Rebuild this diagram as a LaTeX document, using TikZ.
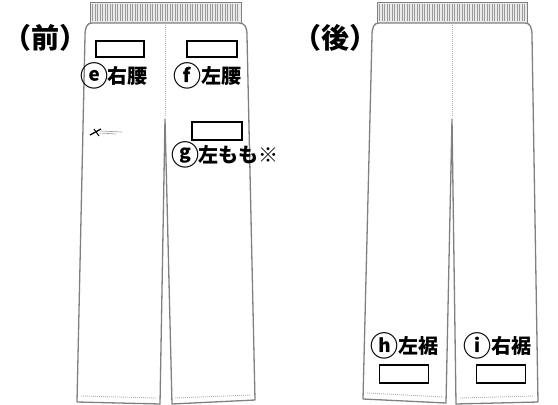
\documentclass[tikz,border=0pt]{standalone}
\usepackage{fontspec}
\newfontfamily\cjk{Noto Sans CJK JP}
\newcommand\cl[1]{{\fontsize{28}{28}\selectfont\raisebox{-3pt}{#1}}}
\tikzset{
  leg/.style={draw=black!50, line width=1.3pt, fill=white, line join=round},
  band/.style={draw=black!50, line width=0.9pt, fill=black!8},
  rib/.style={draw=black!40, line width=0.5pt},
  stitch/.style={draw=black!30, dash pattern=on 1pt off 1pt, line width=0.9pt},
  namebox/.style={draw, line width=1.4pt, minimum width=48pt, minimum height=16pt, inner sep=0pt},
  lbl/.style={font=\cjk\bfseries\fontsize{20}{20}\selectfont, inner sep=0pt},
  ttl/.style={font=\cjk\bfseries\fontsize{28}{28}\selectfont, inner sep=0pt}
}
\begin{document}
\begin{tikzpicture}[x=1pt,y=-1pt]
\useasboundingbox (0,0) rectangle (558,405);
% front
\draw[band] (90,2) rectangle (241,23);
\foreach \x in {92.5,95,...,239} \draw[rib] (\x,4) -- (\x,21);
\draw[leg] (92,23) .. controls (87,23) and (85,27) .. (85,36) -- (77,402) -- (160,404) -- (165,119) -- (172,404) -- (255,400) -- (247,36) .. controls (247,27) and (245,23) .. (239,23) -- cycle;
\draw[stitch] (165,25) -- (165,116);
\draw[stitch] (81,396) -- (157,398);
\draw[stitch] (175,398) -- (251,395);
% logo
\draw[line width=1.3pt] (90,135) -- (101,129);
\draw[line width=1pt] (94,129) -- (99,136);
\draw[black!40,line width=0.6pt] (101,131) -- (122,132) (100,133) -- (116,134);
% back
\draw[band] (377,2) rectangle (527,23);
\foreach \x in {379.5,382,...,525} \draw[rib] (\x,4) -- (\x,21);
\draw[leg] (379,23) .. controls (374,23) and (372,27) .. (372,36) -- (363,399) -- (446,403) -- (452,119) -- (456,404) -- (538,402) -- (532,36) .. controls (532,27) and (530,23) .. (525,23) -- cycle;
\draw[stitch] (452,25) -- (452,116);
\draw[stitch] (367,393) -- (443,397);
\draw[stitch] (460,398) -- (534,396);
% titles
\node[ttl] (front) at (46,38) {（前）};
\node[ttl] (back) at (335,38) {（後）};
% boxes and labels
\node[namebox] (e) at (120,49) {};
\node[namebox, minimum width=50pt] (f) at (212,49) {};
\node[namebox, minimum width=50pt, minimum height=18pt] (g) at (217,131) {};
\node[namebox, minimum width=49pt, minimum height=18pt] (h) at (404,374) {};
\node[namebox, minimum width=49pt, minimum height=18pt] (i) at (501,374) {};
\node[lbl] (el) at (114,76) {\cl{ⓔ}右腰};
\node[lbl] (fl) at (207,76) {\cl{ⓕ}左腰};
\node[lbl] (gl) at (225,155) {\cl{ⓖ}左もも※};
\node[lbl] (hl) at (404,346) {\cl{ⓗ}左裾};
\node[lbl] (il) at (497,346) {\cl{ⓘ}右裾};
\end{tikzpicture}
\end{document}
